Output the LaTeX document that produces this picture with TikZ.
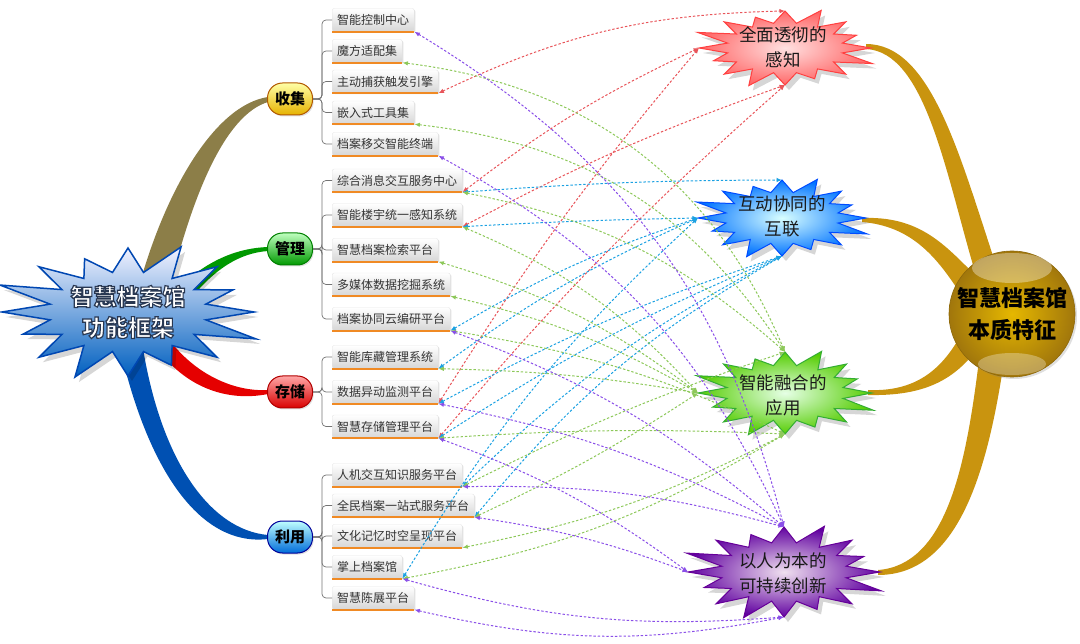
\documentclass[tikz,border=0pt]{standalone}
\usepackage{fontspec}
\newfontfamily\cjk{Noto Sans CJK SC}
\usetikzlibrary{arrows.meta,calc,shadows}
\definecolor{cR}{HTML}{E8555A}
\definecolor{cB}{HTML}{1BA1E2}
\definecolor{cG}{HTML}{8DC85A}
\definecolor{cP}{HTML}{8A4FE8}
\definecolor{goldb}{HTML}{C9940F}
\definecolor{olive}{HTML}{8C7E48}
\definecolor{leafline}{HTML}{F08A24}
\newcommand\outlon{\special{pdf:literal direct 2 Tr 1.2 w 0.16 0.22 0.32 RG}}
\newcommand\outloff{\special{pdf:literal direct 0 Tr}}
\newcommand\spikystar[6]{%
  \path[fill=black,opacity=.16] plot[variable=\t,samples at={0,...,31}]
   ({#2+4+#4*(1-(1-#6)*mod(\t,2))*(1+.1*sin(\t*45)*(1-mod(\t,2)))*cos(\t*11.25)},
    {#3+5+#5*(1-(1-#6)*mod(\t,2))*(1+.1*sin(\t*45)*(1-mod(\t,2)))*sin(\t*11.25)}) -- cycle;
  \path[#1] plot[variable=\t,samples at={0,...,31}]
   ({#2+#4*(1-(1-#6)*mod(\t,2))*(1+.1*sin(\t*45)*(1-mod(\t,2)))*cos(\t*11.25)},
    {#3+#5*(1-(1-#6)*mod(\t,2))*(1+.1*sin(\t*45)*(1-mod(\t,2)))*sin(\t*11.25)}) -- cycle;}
\begin{document}
\begin{tikzpicture}[x=1pt,y=-1pt,
  leaf/.style={anchor=west, font=\cjk\fontsize{12}{14}\selectfont, text=black!80,
    minimum height=23pt, inner xsep=5pt, inner ysep=0pt, top color=white, bottom color=black!16,
    draw=black!10, line width=.4pt, rounded corners=2pt,
    drop shadow={shadow xshift=1.2pt, shadow yshift=-1.2pt, opacity=.25}},
  cat/.style={font=\cjk\bfseries\fontsize{15}{17}\selectfont, minimum width=45pt, minimum height=32pt,
    rounded corners=15pt, line width=1pt, inner sep=0pt,
    drop shadow={shadow xshift=1.2pt, shadow yshift=-1.5pt, opacity=.25}},
  bracket/.style={draw=black!55, line width=.7pt, rounded corners=4pt},
  con/.style={dash pattern=on 2.4pt off 1.9pt, line width=1pt,
    arrows={Latex[length=5.5pt,width=4.5pt]-Latex[length=5.5pt,width=4.5pt]}},
  conR/.style={con, draw=cR}, conB/.style={con, draw=cB},
  conG/.style={con, draw=cG}, conP/.style={con, draw=cP},
  startext/.style={font=\cjk\fontsize{17.5}{25}\selectfont, align=center, text=black!90, inner sep=0pt},
  orangeline/.style={draw=leafline, line width=2pt}]
\useasboundingbox (0,0) rectangle (1080,644);

% ---------- left branches ----------
\fill[olive] (138,290) .. controls (165,190) and (215,105) .. (268,97) -- (268,102) .. controls (225,115) and (192,195) .. (168,295) -- cycle;
\fill[green!60!black] (178,288) .. controls (210,258) and (240,248) .. (268,247) -- (268,251) .. controls (240,253) and (215,268) .. (188,302) -- cycle;
\fill[red!90!black] (168,338) .. controls (195,375) and (235,392) .. (268,390) -- (268,394) .. controls (228,402) and (188,388) .. (160,352) -- cycle;
\fill[blue!55!cyan!70!black] (142,342) .. controls (160,460) and (210,530) .. (268,535) -- (268,539) .. controls (200,547) and (148,470) .. (120,348) -- cycle;

% ---------- left star ----------
\spikystar{draw=blue!60!cyan!70!black, line width=1.5pt, top color=blue!5, bottom color=blue!50!cyan!75!black}{128}{312}{126}{64}{.63}
\node[font=\cjk\bfseries\fontsize{23}{31}\selectfont, align=center, text=white, inner sep=0pt] (fw) at (128,312) {\outlon 智慧档案馆\\\outlon 功能框架\outloff};

% ---------- categories ----------
\node[cat, top color=yellow!35, bottom color=orange!45!yellow!90!black, draw=orange!70!black] (c1) at (290,99) {收集};
\node[cat, top color=green!25, bottom color=green!60!black, draw=green!50!black] (c2) at (290,249) {管理};
\node[cat, top color=red!35, bottom color=red!85!black, draw=red!70!black] (c3) at (290,392) {存储};
\node[cat, top color=cyan!25, bottom color=blue!50!cyan!85!black, draw=blue!60!black] (c4) at (290,537) {利用};

% ---------- leaves ----------
\node[leaf] (l1) at (332,20) {智能控制中心};
\node[leaf] (l2) at (332,51) {魔方适配集};
\node[leaf] (l3) at (332,81.5) {主动捕获触发引擎};
\node[leaf] (l4) at (332,112.5) {嵌入式工具集};
\node[leaf] (l5) at (332,144) {档案移交智能终端};
\node[leaf] (l6) at (332,180.5) {综合消息交互服务中心};
\node[leaf] (l7) at (332,215) {智能楼宇统一感知系统};
\node[leaf] (l8) at (332,250) {智慧档案检索平台};
\node[leaf] (l9) at (332,284.5) {多媒体数据挖掘系统};
\node[leaf] (l10) at (332,319) {档案协同云编研平台};
\node[leaf] (l11) at (332,357) {智能库藏管理系统};
\node[leaf] (l12) at (332,392) {数据异动监测平台};
\node[leaf] (l13) at (332,426.5) {智慧存储管理平台};
\node[leaf] (l14) at (332,475) {人机交互知识服务平台};
\node[leaf] (l15) at (332,505.5) {全民档案一站式服务平台};
\node[leaf] (l16) at (332,536) {文化记忆时空呈现平台};
\node[leaf] (l17) at (332,567) {掌上档案馆};
\node[leaf] (l18) at (332,598) {智慧陈展平台};
\foreach \n in {1,...,18} \draw[orangeline] (l\n.south west) -- (l\n.south east);

\foreach \c/\a/\b in {c1/1/5, c2/6/10, c3/11/13, c4/14/18}
  \foreach \n in {\a,...,\b}
    \draw[bracket] (\c.east) -- ($(\c.east -| l\n.west)+(-10,0)$) |- (l\n.west);

% ---------- right gold branches ----------
\fill[goldb] (866,44) .. controls (930,44) and (958,150) .. (995,262) -- (975,272) .. controls (945,170) and (925,52) .. (866,49) -- cycle;
\fill[goldb] (862,218) .. controls (915,216) and (940,240) .. (968,268) -- (958,290) .. controls (935,255) and (910,226) .. (862,222) -- cycle;
\fill[goldb] (868,390) .. controls (915,392) and (940,370) .. (958,340) -- (968,360) .. controls (945,385) and (915,396) .. (868,395) -- cycle;
\fill[goldb] (878,570) .. controls (945,565) and (965,470) .. (978,368) -- (1002,374) .. controls (985,480) and (955,575) .. (878,575) -- cycle;

\node[circle, minimum size=126pt, inner sep=0pt, inner color=yellow!60!orange!90!black, outer color=goldb!80!black,
  draw=goldb!70!black, line width=.6pt, font=\cjk\bfseries\fontsize{22}{32}\selectfont, align=center, text=black,
  drop shadow={shadow xshift=2pt, shadow yshift=-2pt, opacity=.25}] (core) at (1012,314) {智慧档案馆\\本质特征};
\fill[white, opacity=.35] (1012,268) ellipse (40pt and 15pt);
\fill[white, opacity=.3] (1012,364) ellipse (34pt and 11pt);

% ---------- feature stars ----------
\spikystar{draw=red!75!white, line width=1pt, inner color=red!12, outer color=red!60}{785}{48}{86}{37}{.68}
\spikystar{draw=blue!70!cyan, line width=1pt, inner color=cyan!15, outer color=blue!55!cyan}{782}{218}{84}{38}{.68}
\spikystar{draw=green!60!black!80, line width=1pt, inner color=green!10, outer color=green!45!lime!80!black}{785}{393}{87}{41}{.68}
\spikystar{draw=violet!80!blue, line width=1pt, inner color=violet!12, outer color=violet!75!blue}{784}{572}{96}{45}{.66}

\node[startext] (rs) at (783,47.5) {全面透彻的\\感知};
\node[startext] (bs) at (782,216.5) {互动协同的\\互联};
\node[startext] (gs) at (783,395.5) {智能融合的\\应用};
\node[startext] (ps) at (783,573.5) {以人为本的\\可持续创新};

\coordinate (rT) at (785,11);  \coordinate (rL) at (699,48);  \coordinate (rB) at (785,85);
\coordinate (bT) at (782,180); \coordinate (bL) at (698,218); \coordinate (bB) at (782,256);
\coordinate (gT) at (785,352); \coordinate (gL) at (698,393); \coordinate (gB) at (785,434);
\coordinate (pT) at (784,527); \coordinate (pL) at (688,572); \coordinate (pB) at (784,617);

% ---------- connectors ----------
\draw[conR] (l3.south east) to[bend left=12] (rT);
\draw[conR] (l6.south east) to[bend left=6] (rL);
\draw[conR] (l7.south east) to[bend left=4] (rB);
\draw[conR] (l12.south east) to[bend left=4] (rL);
\draw[conR] (l13.south east) to[bend left=4] (rB);

\draw[conB] (l6.south east) to[bend left=2] (bT);
\draw[conB] (l7.south east) to[bend left=1] (bL);
\draw[conB] (l10.south east) to[bend left=6] (bL);
\draw[conB] (l11.south east) to[bend left=6] (bL);
\draw[conB] (l12.south east) to[bend left=5] (bB);
\draw[conB] (l13.south east) to[bend left=5] (bB);
\draw[conB] (l14.south east) to[bend left=8] (bB);
\draw[conB] (l15.south east) to[bend left=10] (bB);
\draw[conB] (l17.south east) to[bend left=8] (bL);

\draw[conG] (l2.south east) to[bend left=30] (gT);
\draw[conG] (l4.south east) to[bend left=25] (gT);
\draw[conG] (l6.south east) to[bend left=15] (gT);
\draw[conG] (l7.south east) to[bend left=12] (gL);
\draw[conG] (l8.south east) to[bend left=10] (gL);
\draw[conG] (l9.south east) to[bend left=8] (gL);
\draw[conG] (l10.south east) to[bend left=8] (gB);
\draw[conG] (l11.south east) to[bend left=4] (gL);
\draw[conG] (l13.south east) to[bend left=3] (gB);
\draw[conG] (l14.south east) to[bend left=4] (gT);
\draw[conG] (l15.south east) to[bend right=4] (gL);
\draw[conG] (l16.south east) to[bend right=8] (gB);
\draw[conG] (l17.south east) to[bend right=10] (gB);

\draw[conP] (l1.south east) to[bend left=22] (pT);
\draw[conP] (l5.south east) to[bend left=18] (pT);
\draw[conP] (l10.south east) to[bend left=10] (pT);
\draw[conP] (l12.south east) to[bend left=8] (pT);
\draw[conP] (l13.south east) to[bend left=8] (pL);
\draw[conP] (l14.south east) to[bend left=8] (pT);
\draw[conP] (l15.south east) to[bend left=6] (pL);
\draw[conP] (l17.south east) to[bend right=10] (pB);
\draw[conP] (l18.south east) to[bend right=12] (pB);
\end{tikzpicture}
\end{document}
